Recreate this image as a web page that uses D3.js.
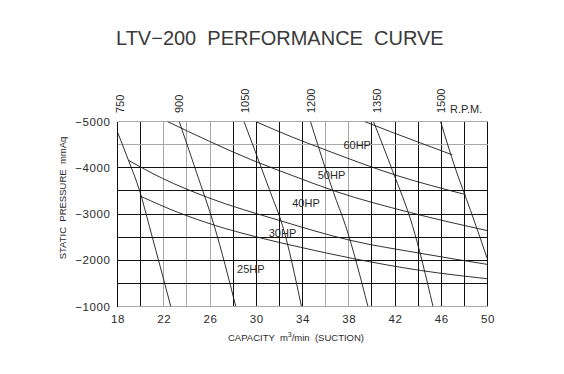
<!DOCTYPE html>
<html>
<head>
<meta charset="utf-8">
<script src="https://cdn.jsdelivr.net/npm/d3@7"></script>
<style>
body{margin:0;background:#fff;}
text{font-family:"Liberation Sans",Arial,sans-serif;fill:#2a2a2a;}
</style>
</head>
<body>
<script>
// capacity (m3/min) / static pressure (mmAq)
var xTicks=[18,22,26,30,34,38,42,46,50];
var yTicks=[-5000,-4000,-3000,-2000,-1000];

var rpmNames=["750","900","1050","1200","1350","1500"];
var rpmLabelQ=[18.6,23.7,29.4,35.1,40.8,46.4];

var rpm750=[[18.0,-4770],[18.95,-4160],[19.93,-3490],[20.74,-2750],[22.61,-1000]];
var rpm900=[[23.34,-5000],[24.83,-3900],[26.36,-2750],[28.23,-1000]];
var rpm1050=[[28.94,-5000],[31.23,-3465],[32.27,-2750],[33.91,-1000]];
var rpm1200=[[34.69,-5000],[36.68,-3465],[37.72,-2750],[39.66,-1000]];
var rpm1350=[[40.14,-5000],[41.78,-3940],[43.51,-2750],[45.29,-1000]];
var rpm1500=[[45.94,-5000],[47.2,-4000],[48.53,-3080],[50.0,-2020]];

var hp60=[[39.36,-5000],[41.61,-4780],[43.95,-4560],[46.95,-4280]];
var hp50=[[29.94,-5000],[33.14,-4660],[35.84,-4400],[42.19,-3830],[48.1,-3420]];
var hp40=[[22.32,-5000],[25.96,-4570],[29.5,-4180],[33.14,-3830],[36.85,-3490],[43.34,-3030],[50.0,-2640]];
var hp30=[[18.95,-4160],[21.89,-3770],[25.78,-3360],[32.01,-2860],[38.15,-2430],[44.2,-2150],[50.0,-1910]];
var hp25=[[20.03,-3380],[23.28,-3030],[26.48,-2750],[29.94,-2510],[33.83,-2280],[38.32,-2040],[44.2,-1780],[50.0,-1600]];

var hpNames=["60HP","50HP","40HP","30HP","25HP"];
var hpLabelAt=[[38.73,-4416],[36.51,-3752],[34.3,-3141],[32.27,-2503],[29.53,-1714]];

var width=564;
var height=374;
var margin={top:121, left:117};
var w=370, h=185;

// light grid lines in the scan
var grayX=[22,24,26,36,38];
var grayY=[-5000,-4500,-1000];

var svg=d3.select("body")
    .append("svg")
    .attr("width",width)
    .attr("height",height);

var x=d3.scaleLinear().domain([18,50]).range([0,w]);
var y=d3.scaleLinear().domain([-1000,-5000]).range([h,0]);

var g=svg.append("g")
    .attr("transform","translate("+(margin.left+0.5)+","+(margin.top+0.5)+")");

g.append("clipPath").attr("id","plot")
    .append("rect").attr("x",0).attr("y",0).attr("width",w).attr("height",h);

// grid
g.selectAll(".vgrid")
    .data(d3.range(18,51,2))
    .enter()
    .append("line")
    .attr("x1",function(d){return x(d);})
    .attr("x2",function(d){return x(d);})
    .attr("y1",0)
    .attr("y2",h)
    .attr("stroke",function(d){return grayX.indexOf(d)>=0?"#a8a8a8":"#111";})
    .attr("shape-rendering","crispEdges");

g.selectAll(".hgrid")
    .data(d3.range(-5000,-999,500))
    .enter()
    .append("line")
    .attr("x1",0)
    .attr("x2",w)
    .attr("y1",function(d){return y(d);})
    .attr("y2",function(d){return y(d);})
    .attr("stroke",function(d){return grayY.indexOf(d)>=0?"#a8a8a8":"#111";})
    .attr("shape-rendering","crispEdges");

var line=d3.line()
    .x(function(d){return x(d[0]);})
    .y(function(d){return y(d[1]);})
    .curve(d3.curveMonotoneX);

var curves=[rpm750,rpm900,rpm1050,rpm1200,rpm1350,rpm1500,hp60,hp50,hp40,hp30,hp25];
g.append("g").attr("clip-path","url(#plot)")
    .selectAll("path")
    .data(curves)
    .enter()
    .append("path")
    .attr("d",line)
    .attr("fill","none")
    .attr("stroke","#1a1a1a")
    .attr("stroke-width",0.9);

// hp labels
g.selectAll(".hp")
    .data(hpNames)
    .enter()
    .append("text")
    .attr("x",function(d,i){return x(hpLabelAt[i][0]);})
    .attr("y",function(d,i){return y(hpLabelAt[i][1]);})
    .attr("text-anchor","middle")
    .attr("font-size","11px")
    .text(function(d){return d;});

// axes
var ya=g.append("g")
    .call(d3.axisLeft(y).tickValues(yTicks).tickSize(0).tickPadding(7).tickFormat(d3.format("d")));
ya.select(".domain").remove();
ya.selectAll("text").attr("font-size","11.5px").style("letter-spacing","0.6px");

var xa=g.append("g")
    .attr("transform","translate(0,"+h+")")
    .call(d3.axisBottom(x).tickValues(xTicks).tickSize(0).tickPadding(8));
xa.select(".domain").remove();
xa.selectAll("text").attr("font-size","11.5px").style("letter-spacing","0.6px");

// rpm labels on top
svg.selectAll(".rpm")
    .data(rpmNames)
    .enter()
    .append("text")
    .attr("transform",function(d,i){
        return "translate("+(margin.left+x(rpmLabelQ[i]))+",113) rotate(-90)";
    })
    .attr("font-size","11px")
    .text(function(d){return d;});

svg.append("text")
    .attr("x",450)
    .attr("y",113)
    .attr("font-size","11px")
    .text("R.P.M.");

// titles
svg.append("text")
    .attr("x",116)
    .attr("y",45)
    .attr("font-size","20px")
    .style("white-space","pre")
    .style("fill","#3a3a3a")
    .text("LTV−200  PERFORMANCE  CURVE");

svg.append("text")
    .attr("transform","translate(66,198) rotate(-90)")
    .attr("text-anchor","middle")
    .attr("font-size","9.5px")
    .style("white-space","pre")
    .text("STATIC  PRESSURE  mmAq");

var xt=svg.append("text")
    .attr("x",296)
    .attr("y",341)
    .attr("text-anchor","middle")
    .attr("font-size","9.5px")
    .style("white-space","pre");
xt.append("tspan").text("CAPACITY  m");
xt.append("tspan").attr("dy",-4).attr("font-size","7px").text("3");
xt.append("tspan").attr("dy",4).text("/min  (SUCTION)");
</script>
</body>
</html>
